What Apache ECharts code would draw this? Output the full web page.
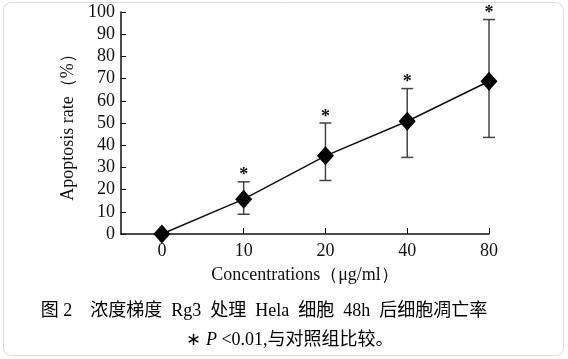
<!DOCTYPE html>
<html>
<head>
<meta charset="utf-8">
<script src="https://cdn.jsdelivr.net/npm/echarts@6/dist/echarts.min.js"></script>
<style>html,body{margin:0;padding:0;background:#fff}#c{width:568px;height:359px}</style>
</head>
<body>
<div id="c"></div>
<script>
const categories = ['0', '10', '20', '40', '80'];
const meanRate = [0, 15.7, 35.2, 50.8, 68.8];
const upperRate = [null, 23.5, 50.0, 65.5, 96.6];
const lowerRate = [null, 8.9, 24.1, 34.5, 43.5];
const sigMarks = ['', '*', '*', '*', '*'];
const yTicks = [0, 10, 20, 30, 40, 50, 60, 70, 80, 90, 100];
const xTitle = 'Concentrations（μg/ml）';
const yTitle = 'Apoptosis rate（%）';
const caption1 = '图 2\u3000浓度梯度\u2002Rg3\u2002处理\u2002Hela\u2002细胞\u200248h\u2002后细胞凋亡率';
const caption2Parts = ['∗ ', 'P', ' <0.01,与对照组比较。'];

const serif = "'Liberation Serif', 'Times New Roman', serif";
const cjk = "'Liberation Serif', 'Noto Sans CJK SC', serif";

const chart = echarts.init(document.getElementById('c'));
const idx = categories.map((_, i) => i);
const errData = idx.filter(i => upperRate[i] != null).map(i => [i, lowerRate[i], upperRate[i], sigMarks[i]]);

chart.setOption({
  animation: false,
  backgroundColor: '#fff',
  grid: { left: 121, right: 79, top: 12, bottom: 125 },
  xAxis: {
    type: 'value', min: -0.5, max: 4,
    name: xTitle, nameLocation: 'middle', nameGap: 32,
    nameTextStyle: { fontFamily: serif, fontSize: 18, color: '#111' },
    axisLine: { onZero: false, lineStyle: { color: '#111', width: 1.5 } },
    axisTick: { inside: true, length: 6, customValues: [1, 2, 3, 4], lineStyle: { color: '#111' } },
    axisLabel: { customValues: idx, formatter: v => categories[Math.round(v)], fontFamily: serif, fontSize: 18, color: '#111', margin: 8 },
    splitLine: { show: false }
  },
  yAxis: {
    type: 'value', min: 0, max: 100, interval: 10,
    name: yTitle, nameLocation: 'middle', nameGap: 42, nameRotate: 90,
    nameTextStyle: { fontFamily: serif, fontSize: 18, color: '#111' },
    axisLine: { show: true, onZero: false, lineStyle: { color: '#111', width: 1.5 } },
    axisTick: { show: true, inside: true, length: 5, lineStyle: { color: '#111' } },
    axisLabel: { fontFamily: serif, fontSize: 18, color: '#111', margin: 6, formatter: v => yTicks.includes(v) ? String(v) : '' },
    splitLine: { show: false }
  },
  series: [
    {
      type: 'custom',
      data: errData,
      z: 1,
      renderItem: function (params, api) {
        const x = api.value(0);
        const lo = api.coord([x, api.value(1)]);
        const hi = api.coord([x, api.value(2)]);
        const w = 6;
        const st = { stroke: '#444', lineWidth: 1.5 };
        return {
          type: 'group',
          children: [
            { type: 'line', shape: { x1: hi[0], y1: hi[1], x2: lo[0], y2: lo[1] }, style: st },
            { type: 'line', shape: { x1: hi[0] - w, y1: hi[1], x2: hi[0] + w, y2: hi[1] }, style: st },
            { type: 'line', shape: { x1: lo[0] - w, y1: lo[1], x2: lo[0] + w, y2: lo[1] }, style: st },
            { type: 'text', x: hi[0], y: hi[1] + 3, style: { text: api.value(3), fontSize: 18, fontFamily: serif, fontWeight: 'bold', fill: '#111', align: 'center', verticalAlign: 'bottom' } }
          ]
        };
      }
    },
    {
      type: 'line',
      data: idx.map(i => [i, meanRate[i]]),
      symbol: 'diamond', symbolSize: [17, 19],
      lineStyle: { color: '#111', width: 1.5 },
      itemStyle: { color: '#000' },
      z: 3
    }
  ],
  graphic: [
    { type: 'rect', shape: { x: 3.5, y: 2.5, width: 560, height: 353, r: 8 }, style: { fill: 'none', stroke: '#dcdcdc', lineWidth: 1 }, z: -1 },
    { type: 'text', x: 264, y: 311, style: { text: caption1, fontFamily: cjk, fontSize: 18, fill: '#000', align: 'center', verticalAlign: 'middle' } },
    { type: 'text', x: 290, y: 340, style: {
        text: '{n|' + caption2Parts[0] + '}{i|' + caption2Parts[1] + '}{n|' + caption2Parts[2] + '}',
        align: 'center', verticalAlign: 'middle',
        rich: {
          n: { fontFamily: cjk, fontSize: 18, fill: '#000', color: '#000' },
          i: { fontFamily: serif, fontSize: 18, fontStyle: 'italic', fill: '#000', color: '#000' }
        } } }
  ]
});
</script>
</body>
</html>
